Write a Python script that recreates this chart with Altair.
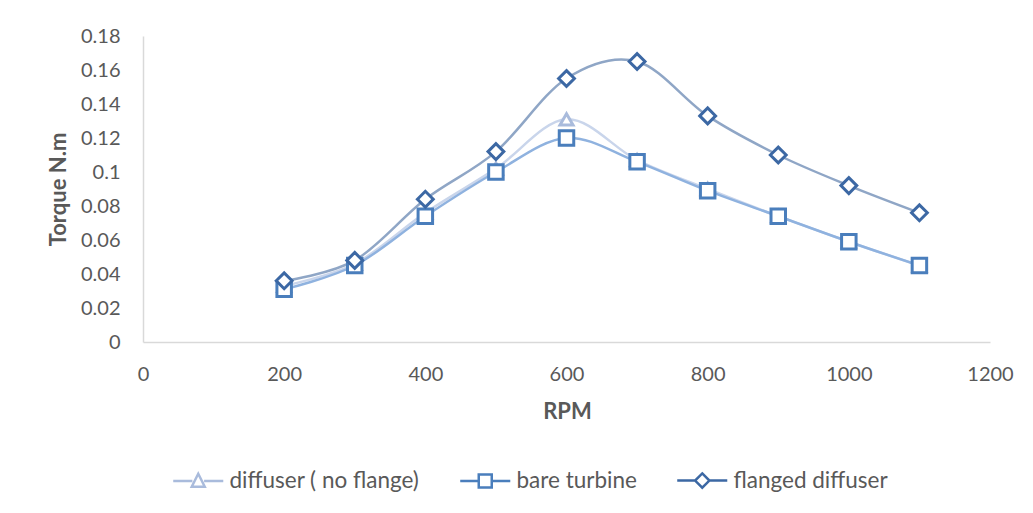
import altair as alt
import pandas as pd

rpm = [200, 300, 400, 500, 600, 700, 800, 900, 1000, 1100]
diffuser_no_flange = [0.033, 0.046, 0.076, 0.102, 0.131, 0.107, 0.090, 0.074, 0.059, 0.045]
bare_turbine = [0.031, 0.045, 0.074, 0.100, 0.120, 0.106, 0.089, 0.074, 0.059, 0.045]
flanged_diffuser = [0.036, 0.048, 0.084, 0.112, 0.155, 0.165, 0.133, 0.110, 0.092, 0.076]

series_names = ["diffuser ( no flange)", "bare turbine", "flanged diffuser"]
x_ticks = [0, 200, 400, 600, 800, 1000, 1200]
y_ticks = [0, 0.02, 0.04, 0.06, 0.08, 0.10, 0.12, 0.14, 0.16, 0.18]

marker_colors = ["#A9BBDC", "#4A7EBC", "#3C68A4"]
line_colors = ["#C9D5EB", "#8FB2DF", "#8FA6C6"]
shapes = ["triangle-up", "square", "diamond"]
marker_sizes = [170, 250, 250]
legend_shapes = [
    "M-3.85,0H-0.9M0.9,0H3.85M0,-1.1L1,0.9H-1Z",
    "M-3.85,0H-1M1,0H3.85M-1,-1H1V1H-1Z",
    "M-3.85,0H-1.1M1.1,0H3.85M0,-1.1L1.1,0L0,1.1L-1.1,0Z",
]

rows = []
for name, vals in zip(series_names, [diffuser_no_flange, bare_turbine, flanged_diffuser]):
    for r, v in zip(rpm, vals):
        rows.append({"rpm": r, "torque": v, "series": name})
df = pd.DataFrame(rows)

x = alt.X("rpm:Q", title="RPM",
          scale=alt.Scale(domain=[0, 1200], nice=False),
          axis=alt.Axis(values=x_ticks, format="d", grid=False, ticks=False,
                        domainColor="#D9D9D9", domainWidth=1.5, labelFlush=False,
                        labelColor="#595959", labelFontSize=20, labelFont="Lato",
                        labelPadding=22,
                        titleColor="#595959", titleFontSize=22, titleFont="Lato",
                        titleFontWeight="bold", titleX=424, titleY=69,
                        titleBaseline="middle", titleAlign="center"))
y = alt.Y("torque:Q", title="Torque N.m",
          scale=alt.Scale(domain=[0, 0.18], nice=False),
          axis=alt.Axis(values=y_ticks, format=".2~f", grid=False, ticks=False,
                        domainColor="#D9D9D9", domainWidth=1.5, labelFlush=False,
                        labelColor="#595959", labelFontSize=20, labelFont="Lato",
                        labelPadding=23,
                        titleColor="#595959", titleFontSize=22, titleFont="Lato",
                        titleFontWeight="bold", titleX=-85, titleY=153,
                        titleBaseline="middle", titleAlign="center", titleAngle=-90))

legend = alt.Legend(title=None, orient="none", legendX=44, legendY=433,
                    direction="horizontal", columns=3,
                    columnPadding=35, labelOffset=20, labelLimit=400,
                    symbolSize=169, symbolStrokeWidth=2.5,
                    symbolFillColor="white", symbolOpacity=1,
                    labelFont="Lato", labelFontSize=22.5, labelColor="#595959",
                    padding=0)

lines = alt.Chart(df).mark_line(interpolate="cardinal", strokeWidth=2.5).encode(
    x=x, y=y,
    stroke=alt.Stroke("series:N", scale=alt.Scale(domain=series_names, range=line_colors), legend=None),
    order=alt.Order("rpm:Q"),
)

points = alt.Chart(df).mark_point(filled=False, fill="white", fillOpacity=1, strokeWidth=3, opacity=1).encode(
    x=x, y=y,
    stroke=alt.Stroke("series:N", scale=alt.Scale(domain=series_names, range=marker_colors), legend=None),
    shape=alt.Shape("series:N", scale=alt.Scale(domain=series_names, range=shapes), legend=None),
    size=alt.Size("series:N", scale=alt.Scale(domain=series_names, range=marker_sizes), legend=None),
)

legend_layer = alt.Chart(df).mark_point(filled=False, opacity=0, size=169).encode(
    x=x, y=y,
    stroke=alt.Stroke("series:N", scale=alt.Scale(domain=series_names, range=marker_colors), legend=legend),
    shape=alt.Shape("series:N", scale=alt.Scale(domain=series_names, range=legend_shapes), legend=legend),
)

chart = alt.layer(lines, points, legend_layer).resolve_scale(
    stroke="independent", shape="independent"
).properties(
    width=847, height=306,
    autosize=alt.AutoSizeParams(type="none"),
    padding={"left": 135, "top": 28, "right": 35, "bottom": 163},
).configure(background="white").configure_view(stroke=None)

chart.save("out.html", embed_options={"renderer": "svg", "actions": False})
